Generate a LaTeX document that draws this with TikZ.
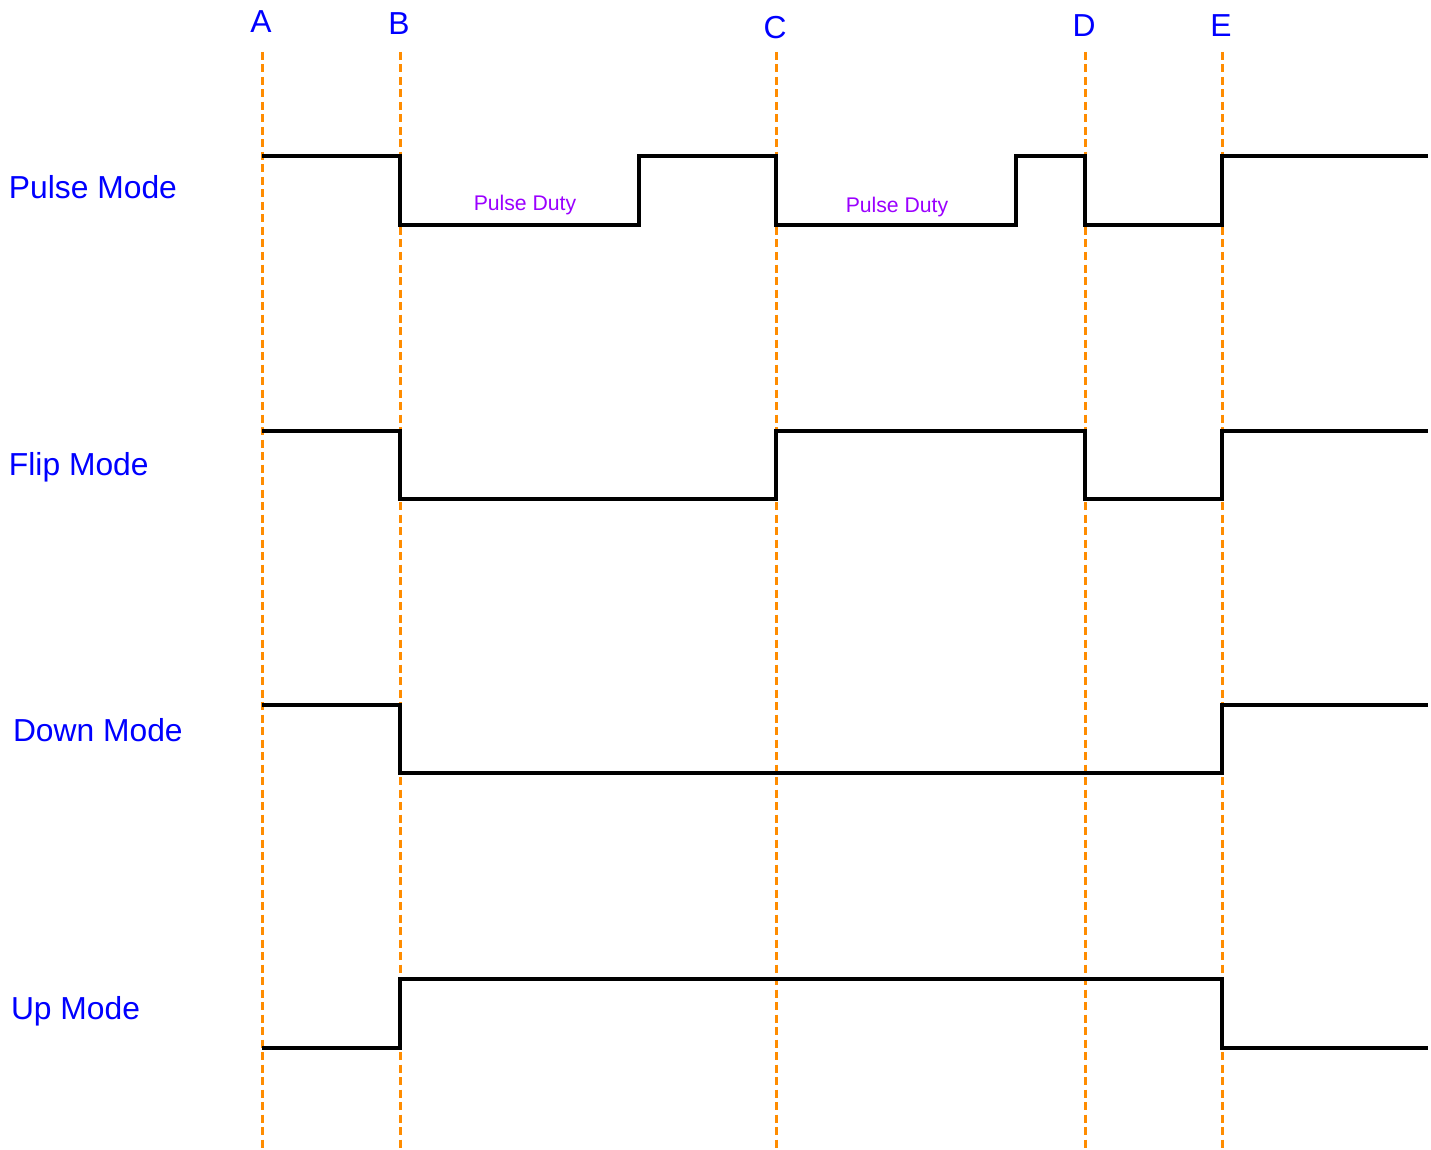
\documentclass[tikz,border=0pt]{standalone}
\usepackage{fontspec}
\setmainfont{Liberation Sans}
\usepackage{xcolor}
\usepackage{tikz}
\definecolor{guideorange}{RGB}{255,140,0}
\definecolor{labelblue}{RGB}{0,0,255}
\definecolor{dutypurple}{RGB}{155,0,255}
\tikzset{
  modelabel/.style={anchor=base west,inner sep=0pt,text=labelblue,font=\fontsize{31.8}{36}\selectfont},
  timelabel/.style={anchor=base,inner sep=0pt,text=labelblue,font=\fontsize{31.8}{36}\selectfont},
  dutylabel/.style={anchor=base,inner sep=0pt,text=dutypurple,font=\fontsize{21.2}{24}\selectfont},
  guide/.style={draw=guideorange,line width=3pt,dash pattern=on 8pt off 4.5pt},
  wave/.style={draw=black,line width=3.2pt,line join=miter}
}

\begin{document}
\begin{tikzpicture}[x=1pt,y=-1pt,inner sep=0pt,outer sep=0pt]
\useasboundingbox[fill=white] (0,0) rectangle (1431,1150);
% time marks
\foreach \n/\x/\yb in {A/262/33,B/400/35,C/776/39,D/1085/37,E/1222/37}{
  \node[timelabel] (t\n) at (\x-1,\yb) {\n};
  \coordinate (top\n) at (\x,52);
  \coordinate (bot\n) at (\x,1150);
  \draw[guide] (top\n) -- (bot\n);
}
% mode names
\node[modelabel] (pulse) at (9,199) {Pulse Mode};
\node[modelabel] (flip) at (9,475) {Flip Mode};
\node[modelabel] (down) at (13,741) {Down Mode};
\node[modelabel] (up) at (11,1019) {Up Mode};
% pulse mode
\draw[wave] (262,156) -- (400,156) -- (400,225) -- (639,225) -- (639,156) -- (776,156)
  -- (776,225) -- (1016,225) -- (1016,156) -- (1085,156) -- (1085,225) -- (1222,225)
  -- (1222,156) -- (1428,156);
\node[dutylabel] (duty1) at (525,211) {Pulse Duty};
\node[dutylabel] (duty2) at (897,213) {Pulse Duty};
% flip mode
\draw[wave] (262,431) -- (400,431) -- (400,499) -- (776,499) -- (776,431) -- (1085,431)
  -- (1085,499) -- (1222,499) -- (1222,431) -- (1428,431);
% down mode
\draw[wave] (262,705) -- (400,705) -- (400,773) -- (1222,773) -- (1222,705) -- (1428,705);
% up mode
\draw[wave] (262,1048) -- (400,1048) -- (400,979) -- (1222,979) -- (1222,1048) -- (1428,1048);
\end{tikzpicture}
\end{document}
